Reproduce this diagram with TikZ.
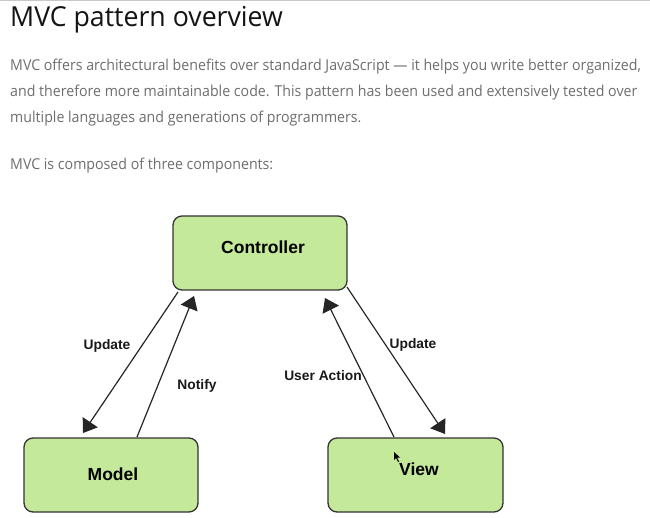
\documentclass[tikz,border=0pt]{standalone}
\usepackage{fontspec}
\setmainfont{Open Sans}
\newfontfamily\bodyfont{Open Sans}[FakeStretch=0.945]
\newfontfamily\titlefont{Open Sans}[FakeStretch=0.97]
\newfontfamily\diafont{Liberation Sans}
\usetikzlibrary{arrows.meta}
\definecolor{boxgreen}{HTML}{C5E99B}
\definecolor{boxline}{HTML}{333333}
\definecolor{bodygray}{HTML}{6E6E6E}
\definecolor{rulegray}{HTML}{C8C8C8}
\tikzset{
  x=1pt, y=-1pt,
  compbox/.style={draw=boxline, line width=1.3pt, fill=boxgreen, rounded corners=9pt},
  comptext/.style={font=\diafont\bfseries\fontsize{17.5}{20}\selectfont, text=black, inner sep=0pt},
  lbl/.style={font=\diafont\bfseries\fontsize{13.8}{16}\selectfont, text=black!90, inner sep=0pt},
  arr/.style={draw=black!85, line width=1.2pt, -{Triangle[length=13pt,width=18pt]}},
  bodytext/.style={anchor=base west, inner sep=0pt, text=bodygray, font=\bodyfont\fontsize{15}{18}\selectfont},
}
\begin{document}
\begin{tikzpicture}
\useasboundingbox (0,0) rectangle (650,518);
\fill[white] (0,0) rectangle (650,518);
\draw[rulegray, line width=1.2pt] (0,0.6) -- (650,0.6);
% heading and text
\node[anchor=base west, inner sep=0pt, text=black!92, font=\titlefont\fontsize{27.5}{32}\selectfont] (title) at (10,27) {MVC pattern overview};
\node[bodytext] (p1) at (10,71) {MVC offers architectural benefits over standard JavaScript — it helps you write better organized,};
\node[bodytext] (p2) at (10,97) {and therefore more maintainable code. This pattern has been used and extensively tested over};
\node[bodytext] (p3) at (10,123) {multiple languages and generations of programmers.};
\node[bodytext] (p4) at (10,170) {MVC is composed of three components:};
% boxes
\draw[compbox] (173,216) rectangle (347,290);
\draw[compbox] (24,438) rectangle (198,512);
\draw[compbox] (328,438) rectangle (503,512);
\node[comptext] (ctrl) at (263,247) {Controller};
\node[comptext] (model) at (113,474) {Model};
\node[comptext] (view) at (419,469) {View};
% connector end points
\coordinate (cA) at (178,292);
\coordinate (mA) at (83,433);
\coordinate (mB) at (137,437);
\coordinate (cB) at (194,296);
\coordinate (vA) at (394,437);
\coordinate (cC) at (325,298);
\coordinate (cD) at (347,287);
\coordinate (vB) at (445,434);
\draw[arr] (cA) -- (mA);
\draw[arr] (mB) -- (cB);
\draw[arr] (vA) -- (cC);
\draw[arr] (cD) -- (vB);
% labels
\node[lbl] (u1) at (107,346) {Update};
\node[lbl] (nt) at (197,386) {Notify};
\node[lbl] (ua) at (323,376) {User Action};
\node[lbl] (u2) at (413,345) {Update};
% mouse cursor
\fill[black] (394,452) -- (394,460) -- (396,458) -- (398,462) -- (399,461.5) -- (397,457.5) -- (400,457.5) -- cycle;
\end{tikzpicture}
\end{document}
